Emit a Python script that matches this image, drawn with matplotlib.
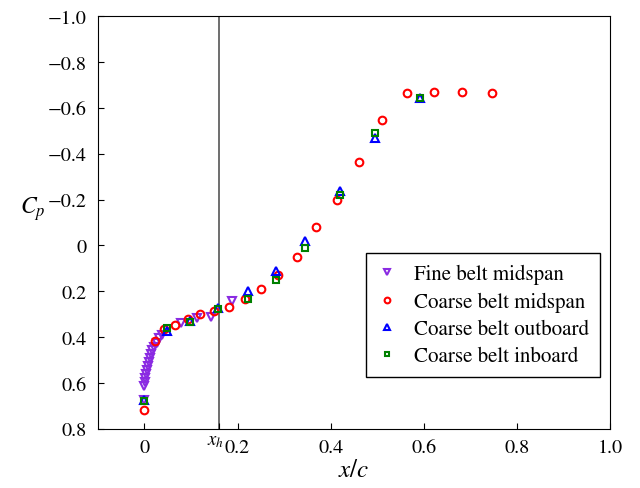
import matplotlib
matplotlib.use("Agg")
from matplotlib import pyplot as plt

plt.rcParams['font.family'] = ['STIXGeneral', 'Liberation Serif', 'DejaVu Serif']
plt.rcParams['mathtext.fontset'] = 'stix'
plt.rcParams['axes.unicode_minus'] = True

# Pressure coefficient along the chord
fine_mid_x = [0.000, 0.000, 0.001, 0.002, 0.003, 0.005, 0.007, 0.009, 0.011, 0.014,
              0.017, 0.021, 0.026, 0.032, 0.038, 0.079, 0.112, 0.144, 0.187]
fine_mid_cp = [0.675, 0.615, 0.595, 0.578, 0.560, 0.543, 0.525, 0.508, 0.492, 0.475,
               0.458, 0.442, 0.425, 0.405, 0.390, 0.337, 0.318, 0.312, 0.243]

coarse_mid_x = [0.000, 0.022, 0.043, 0.066, 0.093, 0.120, 0.149, 0.181, 0.215, 0.250,
                0.287, 0.327, 0.369, 0.414, 0.461, 0.511, 0.565, 0.622, 0.682, 0.746]
coarse_mid_cp = [0.717, 0.419, 0.366, 0.345, 0.320, 0.301, 0.285, 0.267, 0.234, 0.191,
                 0.127, 0.049, -0.082, -0.200, -0.365, -0.546, -0.663, -0.667, -0.667, -0.663]

coarse_out_x = [0.000, 0.048, 0.097, 0.159, 0.222, 0.283, 0.345, 0.420, 0.495, 0.592]
coarse_out_cp = [0.675, 0.375, 0.330, 0.272, 0.200, 0.112, -0.021, -0.239, -0.467, -0.645]

coarse_in_x = [0.000, 0.048, 0.097, 0.159, 0.222, 0.283, 0.345, 0.420, 0.495, 0.592]
coarse_in_cp = [0.680, 0.362, 0.335, 0.277, 0.233, 0.153, 0.012, -0.221, -0.489, -0.641]

x_h = 0.161
x_ticks = [0, 0.2, 0.4, 0.6, 0.8, 1.0]
x_tick_labels = ['0', '0.2', '0.4', '0.6', '0.8', '1.0']
y_ticks = [-1.0, -0.8, -0.6, -0.4, -0.2, 0, 0.2, 0.4, 0.6, 0.8]
y_tick_labels = ['\u22121.0', '\u22120.8', '\u22120.6', '\u22120.4', '\u22120.2',
                 '0', '0.2', '0.4', '0.6', '0.8']

fig = plt.figure(figsize=(6.4, 4.89), dpi=100)
ax = fig.add_axes([0.153, 0.121, 0.8, 0.844])

ax.axvline(x_h, color='#555555', lw=1.2, zorder=1)

mk = dict(linestyle='none', markerfacecolor='none', markeredgewidth=1.5)
ax.plot(fine_mid_x, fine_mid_cp, marker='v', color='#8a2be2', markersize=6,
        label='Fine belt midspan', **mk)
ax.plot(coarse_mid_x, coarse_mid_cp, marker='o', color='red', markersize=5.5,
        label='Coarse belt midspan', **mk)
ax.plot(coarse_out_x, coarse_out_cp, marker='^', color='blue', markersize=6,
        label='Coarse belt outboard', **mk)
ax.plot(coarse_in_x, coarse_in_cp, marker='s', color='green', markersize=4.5,
        label='Coarse belt inboard', **mk)

ax.set_xlim(-0.1, 1.0)
ax.set_ylim(0.8, -1.0)

# x_h gets its own tick; its label sits a little left of the tick
ax.set_xticks(x_ticks + [x_h])
ax.set_xticklabels(x_tick_labels + [''])
ax.annotate('$x_h$', xy=(x_h, 0), xycoords=('data', 'axes fraction'),
            xytext=(-3.5, -12), textcoords='offset pixels',
            ha='center', va='center', fontsize=13.5)
ax.set_yticks(y_ticks)
ax.set_yticklabels(y_tick_labels)
ax.tick_params(direction='in', labelsize=14.5, length=4, width=0.8)
ax.tick_params(axis='y', pad=8)
ax.tick_params(axis='x', pad=7)

ax.set_xlabel('$x/c$', fontsize=18, labelpad=2)
ax.set_ylabel('$C_p$', fontsize=17, rotation=0)
ax.yaxis.set_label_coords(-0.127, 0.5)

leg = ax.legend(loc='lower right', bbox_to_anchor=(0.98, 0.126), borderaxespad=0,
                fontsize=15, fancybox=False, edgecolor='black', framealpha=1,
                handlelength=1.0, handletextpad=0.8, borderpad=0.5,
                labelspacing=0.36, markerscale=0.75)
leg.get_frame().set_linewidth(1.0)

fig.savefig('out.png', dpi=100)
